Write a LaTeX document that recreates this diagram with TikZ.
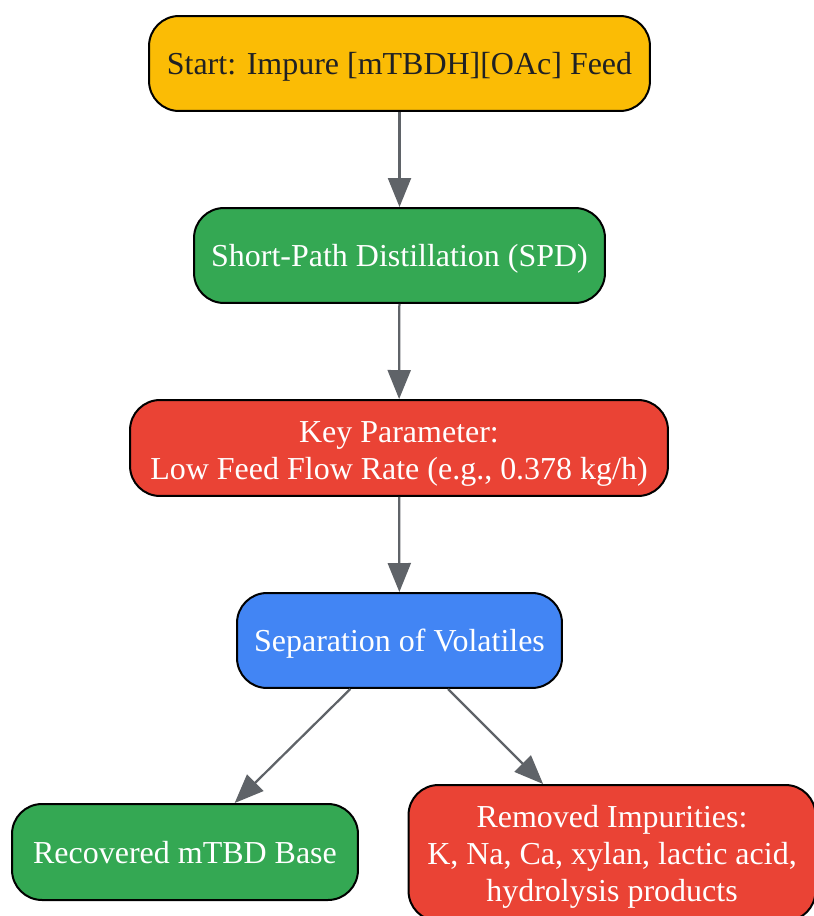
\documentclass[tikz,border=0pt]{standalone}
\usepackage{fontspec}
\setmainfont{Liberation Serif}
\usetikzlibrary{arrows.meta}
\definecolor{feedYellow}{HTML}{FBBC05}
\definecolor{stepGreen}{HTML}{34A853}
\definecolor{keyRed}{HTML}{EA4335}
\definecolor{sepBlue}{HTML}{4285F4}
\definecolor{edgeGray}{HTML}{5F6368}
\definecolor{textDark}{HTML}{202124}
\begin{document}
\begin{tikzpicture}[x=0.02cm,y=-0.02cm,
    flowBox/.style={draw=black, line width=0.04cm, rounded corners=0.6cm, align=center,
        inner sep=0pt, text=white, font=\fontsize{18.2}{21}\selectfont,
        text height=0.60cm, text depth=0.16cm},
    flowArrow/.style={draw=edgeGray, line width=0.045cm,
        -{Triangle[length=0.58cm,width=0.46cm,fill=edgeGray]}}]
    \useasboundingbox (0,0) rectangle (814,916);
    \clip (0,0) rectangle (814,916);

    \node[flowBox, fill=feedYellow, text=textDark, minimum width=10.02cm, minimum height=1.9cm] (feed) at (399.5,63.5) {Start: Impure [mTBDH][OAc] Feed};
    \node[flowBox, fill=stepGreen, minimum width=8.22cm, minimum height=1.9cm] (spd) at (399.5,255.5) {Short-Path Distillation (SPD)};
    \node[flowBox, fill=keyRed, minimum width=10.76cm, minimum height=1.92cm, text height=1.42cm, text depth=0.16cm] (rate) at (399,448) {Key Parameter:\\Low Feed Flow Rate (e.g., 0.378 kg/h)};
    \node[flowBox, fill=sepBlue, minimum width=6.5cm, minimum height=1.9cm] (sep) at (399.5,640.5) {Separation of Volatiles};
    \node[flowBox, fill=stepGreen, minimum width=6.92cm, minimum height=1.92cm] (base) at (185,852) {Recovered mTBD Base};
    \node[flowBox, fill=keyRed, minimum width=8.14cm, minimum height=2.72cm, text height=2.08cm, text depth=0.16cm] (waste) at (612,853) {Removed Impurities:\\K, Na, Ca, xylan, lactic acid,\\hydrolysis products};

    \draw[flowArrow] (feed) -- (spd);
    \draw[flowArrow] (spd) -- (rate);
    \draw[flowArrow] (rate) -- (sep);
    \draw[flowArrow] (sep) -- (base);
    \draw[flowArrow] (sep) -- (waste);
\end{tikzpicture}
\end{document}
